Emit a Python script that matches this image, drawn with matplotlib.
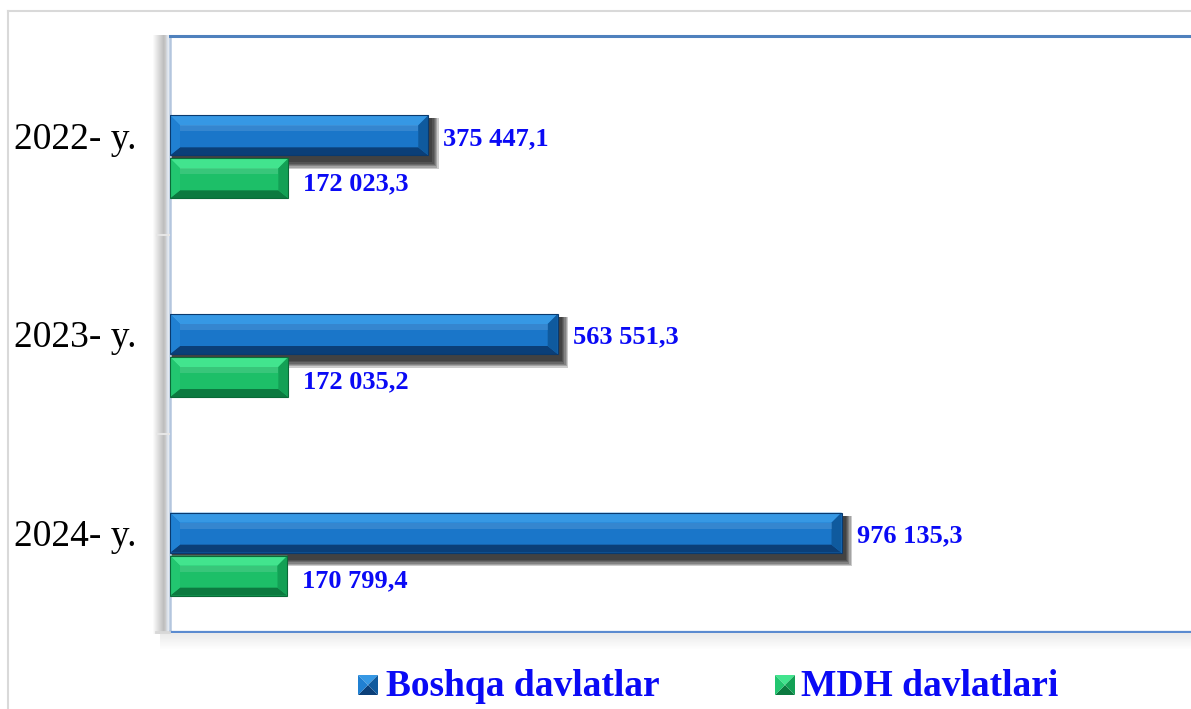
import matplotlib.pyplot as plt
import numpy as np
from matplotlib.patches import Polygon, Rectangle
from matplotlib.lines import Line2D

# Data
years = ['2022- y.', '2023- y.', '2024- y.']
boshqa = [375447.1, 563551.3, 976135.3]
mdh = [172023.3, 172035.2, 170799.4]
series_names = ['Boshqa davlatlar', 'MDH davlatlari']

SERIF = 'Liberation Serif'
LABEL_BLUE = '#0a0af5'

W, H = 1191, 709
fig = plt.figure(figsize=(W / 100, H / 100), dpi=100)

# main plot area (runs a bit past the right edge like the original)
ax = fig.add_axes([170 / W, (H - 632) / H, 1025 / W, 596 / H])
xmax = 1.49e6
ax.set_xlim(0, xmax)
ax.set_ylim(2.5, -0.5)

ux = xmax / 1025      # data units per pixel (x)
uy = 3.0 / 596        # data units per pixel (y)

bar_h = 40 * uy
green_off = 43 * uy

blue_faces = dict(mid='#1a76c9', top='#3698e4', bot='#0b3f78',
                  left='#2080d2', right='#0f5a9e', edge='#0a3a6e')
green_faces = dict(mid='#1dbf68', top='#42e48e', bot='#0c7a40',
                   left='#22c670', right='#13a055', edge='#0a6a38')


def fmt(v):
    return f'{v:,.1f}'.replace(',', ' ').replace('.', ',')


def bevel(y, w, faces):
    top, bot = y - bar_h / 2, y + bar_h / 2
    bx, bt, bb = 10 * ux, 10 * uy, 8 * uy
    polys = {
        'top': [(0, top), (w, top), (w - bx, top + bt), (bx, top + bt)],
        'bot': [(0, bot), (w, bot), (w - bx, bot - bb), (bx, bot - bb)],
        'left': [(0, top), (bx, top + bt), (bx, bot - bb), (0, bot)],
        'right': [(w, top), (w - bx, top + bt), (w - bx, bot - bb), (w, bot)],
    }
    for k, pts in polys.items():
        ax.add_patch(Polygon(pts, closed=True, facecolor=faces[k],
                             edgecolor='none', zorder=4))
    # soft highlight across the flat face
    ax.add_patch(Rectangle((bx, top + bt), w - 2 * bx, 6 * uy,
                           facecolor='white', alpha=0.12, edgecolor='none', zorder=4))
    ax.add_patch(Rectangle((0, top), w, bar_h, facecolor='none',
                           edgecolor=faces['edge'], lw=0.8, zorder=5))


ypos = np.arange(len(years))

# drop shadow under the blue bars
for i, v in enumerate(boshqa):
    top = ypos[i] - bar_h / 2
    for k in range(6):
        grow = (5 - k) * 1.3
        ax.add_patch(Rectangle((0, top + 3 * uy),
                               v + (4 + grow) * ux, bar_h + (4 + grow) * uy,
                               facecolor='black', alpha=0.2, edgecolor='none', zorder=2))

ax.barh(ypos, boshqa, height=bar_h, color=blue_faces['mid'], zorder=3)
ax.barh(ypos + green_off, mdh, height=bar_h, color=green_faces['mid'], zorder=3)

for i in range(len(years)):
    bevel(ypos[i], boshqa[i], blue_faces)
    bevel(ypos[i] + green_off, mdh[i], green_faces)
    ax.text(boshqa[i] + 15 * ux, ypos[i] + 3 * uy, fmt(boshqa[i]),
            ha='left', va='center', fontsize=19, fontweight='bold',
            family=SERIF, color=LABEL_BLUE, zorder=6)
    ax.text(mdh[i] + 15 * ux, ypos[i] + green_off + 5 * uy, fmt(mdh[i]),
            ha='left', va='center', fontsize=19, fontweight='bold',
            family=SERIF, color=LABEL_BLUE, zorder=6)

ax.set_yticks(ypos)
ax.set_yticklabels(years, family=SERIF, fontsize=27, color='black')
ax.tick_params(axis='y', length=0, pad=24)
ax.set_xticks([])

ax.spines['right'].set_visible(False)
ax.spines['top'].set_color('#4f81bd')
ax.spines['top'].set_linewidth(2.2)
ax.spines['left'].set_color('#b4c6de')
ax.spines['left'].set_linewidth(1.8)
ax.spines['bottom'].set_color('#5b8bd0')
ax.spines['bottom'].set_linewidth(1.6)

# grey side wall left of the plot area
wall = fig.add_axes([152 / W, (H - 634) / H, 17 / W, 599 / H])
wall_cols = ['#ffffff', '#fafafa', '#f4f4f4', '#eeeeee', '#e8e8e8', '#e2e2e2', '#dcdcdc',
             '#d6d6d6', '#d0d0d0', '#cacaca', '#c4c4c4', '#bebebe', '#c2c2c2', '#cacaca',
             '#d2d6dc', '#dce2ea', '#e4e9f0']
img = np.array([[[int(c[1:3], 16), int(c[3:5], 16), int(c[5:7], 16)] for c in wall_cols]]) / 255
wall.imshow(img, aspect='auto', extent=(0, 1, 0, 1))
wall.axis('off')
for yy in (235, 434):
    fig.add_artist(Line2D([157 / W, 169 / W], [(H - yy) / H] * 2,
                          color='#e6e6e6', lw=1.5))
fig.add_artist(Line2D([156 / W, 169 / W], [(H - 632) / H] * 2, color='#d8d8d8', lw=2))

# faint floor shadow under the plot area
floor = fig.add_axes([160 / W, (H - 650) / H, (W - 160) / W, 17 / H])
fimg = np.linspace(0.92, 1.0, 17)[:, None] * np.ones((1, 10))
floor.imshow(np.dstack([fimg] * 3), aspect='auto', extent=(0, 1, 0, 1))
floor.axis('off')

# outer chart border
fig.add_artist(Line2D([8 / W, 8 / W], [0, (H - 11) / H], color='#d9d9d9', lw=1.5))
fig.add_artist(Line2D([8 / W, 1], [(H - 11) / H] * 2, color='#d9d9d9', lw=1.5))


# legend with small pyramid markers
def icon(x, y, s, faces):
    iax = fig.add_axes([x / W, (H - y - s) / H, s / W, s / H])
    iax.set_xlim(0, 1)
    iax.set_ylim(0, 1)
    c = (0.5, 0.5)
    iax.add_patch(Polygon([(0, 1), (1, 1), c], facecolor=faces['top']))
    iax.add_patch(Polygon([(0, 0), (1, 0), c], facecolor=faces['bot']))
    iax.add_patch(Polygon([(0, 0), (0, 1), c], facecolor=faces['left']))
    iax.add_patch(Polygon([(1, 0), (1, 1), c], facecolor=faces['right']))
    iax.axis('off')


icon(358, 675, 20, blue_faces)
fig.text(386 / W, (H - 686) / H, series_names[0], ha='left', va='center',
         fontsize=27, fontweight='bold', family=SERIF, color=LABEL_BLUE)
icon(775, 675, 20, green_faces)
fig.text(801 / W, (H - 686) / H, series_names[1], ha='left', va='center',
         fontsize=27, fontweight='bold', family=SERIF, color=LABEL_BLUE)

fig.savefig('out.png', dpi=100, facecolor='white')
